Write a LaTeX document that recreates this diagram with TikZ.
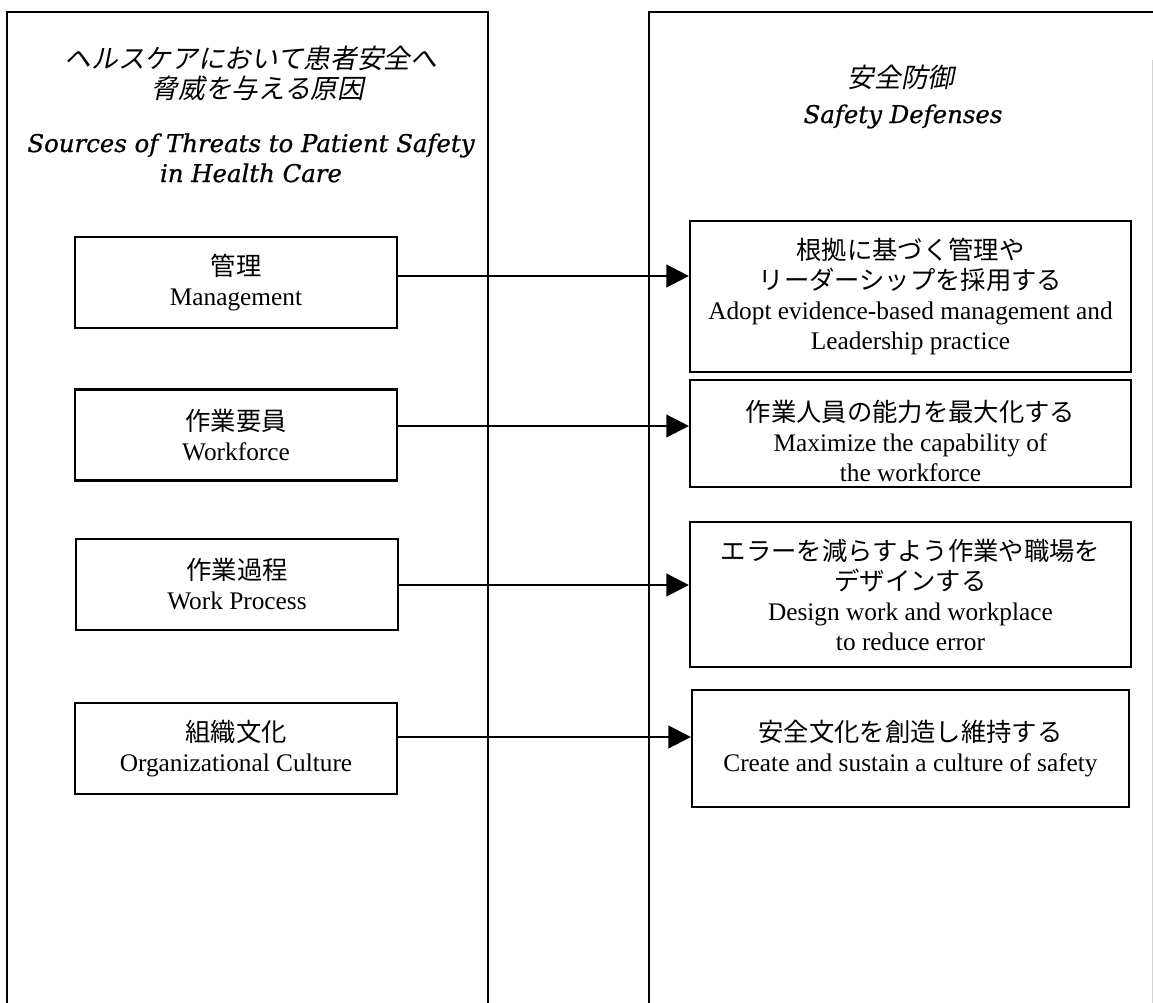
\documentclass[tikz,border=0pt]{standalone}
\usepackage{fontspec}
\setmainfont{Liberation Serif}
\newfontfamily\jp{Noto Sans CJK JP}
\newfontfamily\jpsl[FakeSlant=0.2]{Noto Sans CJK JP}
\newfontfamily\hdr[ItalicFeatures={FakeBold=0.8}]{DejaVu Serif}
\usetikzlibrary{arrows.meta}
\newdimen\pxu \pxu=0.75pt
\begin{document}
\begin{tikzpicture}[x=0.75pt,y=-0.75pt,
  lbox/.style={draw,line width=1.6pt,minimum width=322\pxu,minimum height=91\pxu,align=center,inner sep=0pt,font=\fontsize{19}{22.5}\selectfont},
  rbox/.style={draw,line width=1.6pt,minimum width=441\pxu,align=center,inner sep=0pt,font=\fontsize{19}{22.5}\selectfont},
  arr/.style={line width=1.8pt,-{Triangle[length=17pt,width=17pt]}},
  col/.style={line width=1.9pt},
  hjp/.style={anchor=base,inner sep=0pt,font=\jpsl\fontsize{20}{22}\selectfont},
  hen/.style={anchor=base,inner sep=0pt,font=\hdr\itshape\fontsize{18.3}{20}\selectfont},
]
\useasboundingbox (0,0) rectangle (1153,1003);
% columns
\draw[col] (7,1003) -- (7,12) -- (488,12) -- (488,1003);
\draw[col] (649,1003) -- (649,12) -- (1153,12);
\draw[gray!35,line width=0.6pt] (1152,60) -- (1152,1003);
% headers
\node[hjp] (hl1) at (251,68) {ヘルスケアにおいて患者安全へ};
\node[hjp] (hl2) at (258,98) {脅威を与える原因};
\node[hen] (hle1) at (251,152) {Sources of Threats to Patient Safety};
\node[hen] (hle2) at (251,182) {in Health Care};
\node[hjp] (hr1) at (901,87) {安全防御};
\node[hen] (hr2) at (903,123) {Safety Defenses};
% left boxes
\node[lbox] (s1) at (236,282.5) {{\jp 管理}\\Management};
\node[lbox] (s2) at (236,435) {{\jp 作業要員}\\Workforce};
\node[lbox] (s3) at (237,584.5) {{\jp 作業過程}\\Work Process};
\node[lbox] (s4) at (236,748.5) {{\jp 組織文化}\\Organizational Culture};
% right boxes
\node[rbox,minimum height=151\pxu] (d1) at (910.5,296.5) {{\jp 根拠に基づく管理や}\\{\jp リーダーシップを採用する}\\Adopt evidence-based management and\\Leadership practice};
\node[rbox,minimum height=107\pxu] (d2) at (910.5,433.5) {\rule{0pt}{27pt}{\jp 作業人員の能力を最大化する}\\Maximize the capability of\\the workforce};
\node[rbox,minimum height=145\pxu] (d3) at (910.5,594.5) {{\jp エラーを減らすよう作業や職場を}\\{\jp デザインする}\\Design work and workplace\\to reduce error};
\node[rbox,minimum height=117\pxu,minimum width=437\pxu] (d4) at (910.5,748.5) {{\jp 安全文化を創造し維持する}\\Create and sustain a culture of safety};
% arrows
\coordinate (a1) at (0,276);
\coordinate (a2) at (0,426);
\coordinate (a3) at (0,585);
\coordinate (a4) at (0,737);
\draw[arr] (s1.east |- a1) -- (d1.west |- a1);
\draw[arr] (s2.east |- a2) -- (d2.west |- a2);
\draw[arr] (s3.east |- a3) -- (d3.west |- a3);
\draw[arr] (s4.east |- a4) -- (d4.west |- a4);
\end{tikzpicture}
\end{document}
